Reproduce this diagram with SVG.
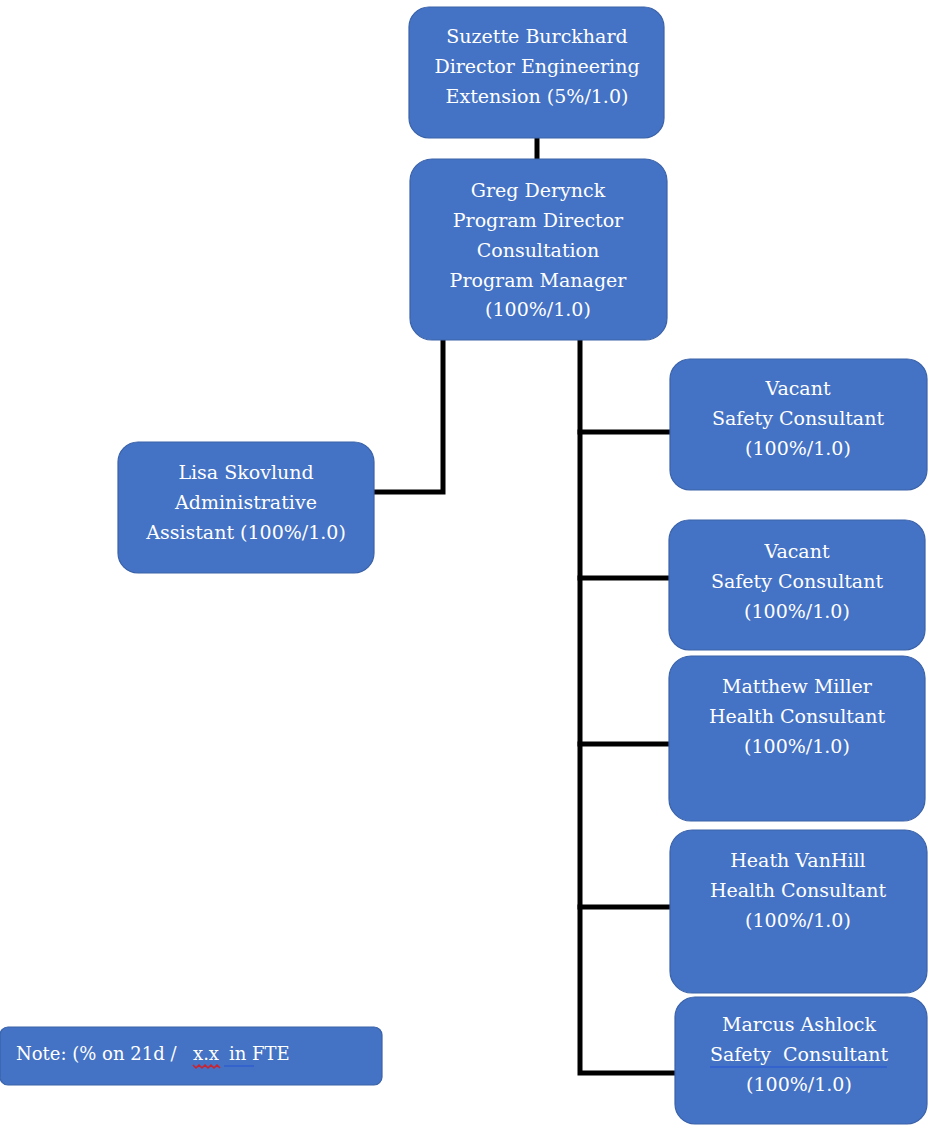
<svg xmlns="http://www.w3.org/2000/svg" width="930" height="1125" viewBox="0 0 930 1125">
<style>
.box{fill:#4472C4;stroke:#3A62A8;stroke-width:1.2}
.t{font-family:'DejaVu Serif','Liberation Serif',serif;font-size:19px;fill:#FFFFFF;text-anchor:middle}
.n{font-family:'DejaVu Serif','Liberation Serif',serif;font-size:18px;fill:#FFFFFF}
.c{stroke:#000;stroke-width:5;fill:none;stroke-linecap:square}
</style>
<rect width="930" height="1125" fill="#FFFFFF"/>
<g id="connectors">
<path class="c" d="M537 140 V158"/>
<path class="c" d="M443 342 V492 H376"/>
<path class="c" d="M580 342 V1073 H673"/>
<path class="c" d="M580 432 H668"/>
<path class="c" d="M580 578 H667"/>
<path class="c" d="M580 744 H667"/>
<path class="c" d="M580 907 H668"/>
</g>
<g id="suzette">
<rect class="box" x="409" y="7" width="255" height="131" rx="20"/>
<text class="t" x="537" y="43">Suzette Burckhard</text>
<text class="t" x="537" y="73">Director Engineering</text>
<text class="t" x="537" y="103">Extension (5%/1.0)</text>
</g>
<g id="greg">
<rect class="box" x="410" y="159" width="257" height="181" rx="22"/>
<text class="t" x="538" y="197">Greg Derynck</text>
<text class="t" x="538" y="227">Program Director</text>
<text class="t" x="538" y="257">Consultation</text>
<text class="t" x="538" y="287">Program Manager</text>
<text class="t" x="538" y="316">(100%/1.0)</text>
</g>
<g id="lisa">
<rect class="box" x="118" y="442" width="256" height="131" rx="20"/>
<text class="t" x="246" y="479">Lisa Skovlund</text>
<text class="t" x="246" y="509">Administrative</text>
<text class="t" x="246" y="539">Assistant (100%/1.0)</text>
</g>
<g id="vacant1">
<rect class="box" x="670" y="359" width="257" height="131" rx="20"/>
<text class="t" x="798" y="395">Vacant</text>
<text class="t" x="798" y="425">Safety Consultant</text>
<text class="t" x="798" y="455">(100%/1.0)</text>
</g>
<g id="vacant2">
<rect class="box" x="669" y="520" width="256" height="130" rx="20"/>
<text class="t" x="797" y="558">Vacant</text>
<text class="t" x="797" y="588">Safety Consultant</text>
<text class="t" x="797" y="618">(100%/1.0)</text>
</g>
<g id="matthew">
<rect class="box" x="669" y="656" width="256" height="165" rx="22"/>
<text class="t" x="797" y="693">Matthew Miller</text>
<text class="t" x="797" y="723">Health Consultant</text>
<text class="t" x="797" y="753">(100%/1.0)</text>
</g>
<g id="heath">
<rect class="box" x="670" y="830" width="257" height="163" rx="22"/>
<text class="t" x="798" y="867">Heath VanHill</text>
<text class="t" x="798" y="897">Health Consultant</text>
<text class="t" x="798" y="927">(100%/1.0)</text>
</g>
<g id="marcus">
<rect class="box" x="675" y="997" width="252" height="127" rx="20"/>
<text class="t" x="799" y="1031">Marcus Ashlock</text>
<text class="t" x="799" y="1061" xml:space="preserve">Safety  Consultant</text>
<line x1="710" y1="1067" x2="887" y2="1067" stroke="#2F5FD0" stroke-width="1.5"/>
<text class="t" x="799" y="1091">(100%/1.0)</text>
</g>
<g id="note">
<rect class="box" x="0" y="1027" width="382" height="58" rx="8"/>
<text class="n" y="1060"><tspan x="16">Note: (% on 21d /</tspan><tspan x="193">x.x</tspan><tspan x="229">in FTE</tspan></text>
<path d="M193 1065 l3 3 l3 -3 l3 3 l3 -3 l3 3 l3 -3 l3 3 l3 -3 l3 3" stroke="#D0202A" stroke-width="1.5" fill="none"/>
<line x1="224" y1="1066" x2="254" y2="1066" stroke="#2F5FD0" stroke-width="1.5"/>
</g>
</svg>
